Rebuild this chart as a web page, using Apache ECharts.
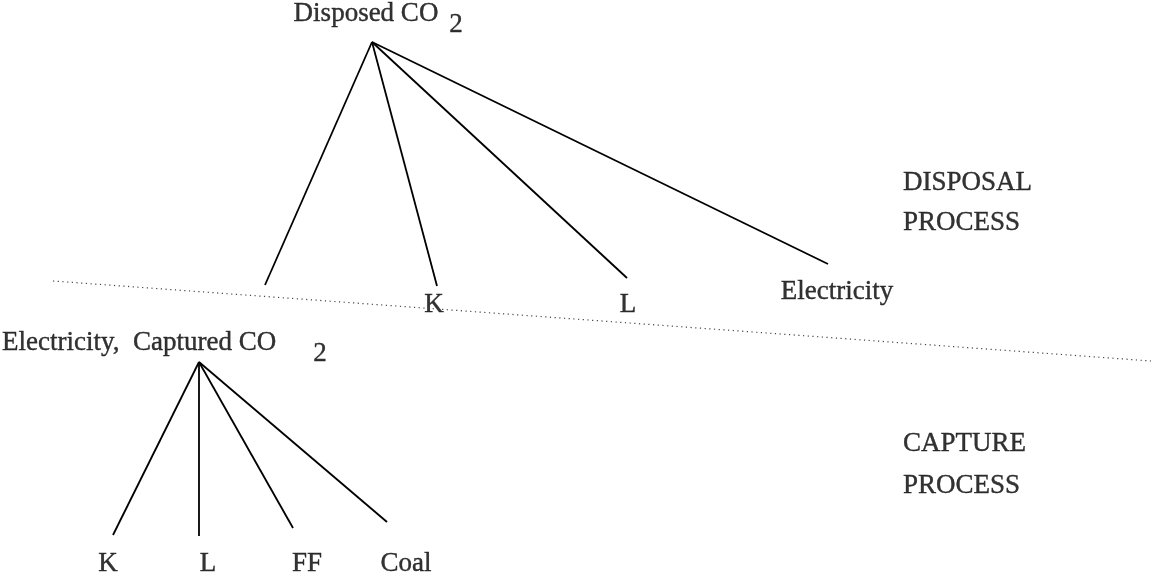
<!DOCTYPE html>
<html>
<head>
<meta charset="utf-8">
<script src="https://cdn.jsdelivr.net/npm/echarts@6/dist/echarts.min.js"></script>
<style>
  body { margin: 0; background: #fff; }
</style>
</head>
<body>
<div id="MyChart" style="width: 1151px;height:578px;"></div>
<script>
// node positions of the two trees (picture coordinates, y downwards)
const topApex = [372, 42]
const topLeafX = [265, 437, 627, 828]
const topLeafY = [285, 286, 278, 264]
const bottomApex = [199, 362]
const bottomLeafX = [113, 199, 293, 387]
const bottomLeafY = [535, 536, 528, 522]

// dotted separator, two end points
const sepX = [53, 1151]
const sepY = [281, 361]

// text labels: [x, y, text, align]
const labels = [
  [366, 14, 'Disposed CO', 'center'],
  [456, 25, '2', 'center'],
  [434, 305, 'K', 'center'],
  [628, 305, 'L', 'center'],
  [837, 292, 'Electricity', 'center'],
  [2, 343, 'Electricity,  Captured CO', 'left'],
  [320, 354, '2', 'center'],
  [108, 564, 'K', 'center'],
  [208, 564, 'L', 'center'],
  [307, 564, 'FF', 'center'],
  [406, 564, 'Coal', 'center'],
  [903, 183, 'DISPOSAL', 'left'],
  [903, 223, 'PROCESS', 'left'],
  [903, 444, 'CAPTURE', 'left'],
  [903, 486, 'PROCESS', 'left']
]

let nodes = []
let links = []
nodes.push({ name: 'top', value: topApex })
for (let i = 0; i < topLeafX.length; i++) {
  nodes.push({ name: 't' + i, value: [topLeafX[i], topLeafY[i]] })
  links.push({ source: 0, target: nodes.length - 1 })
}
nodes.push({ name: 'bottom', value: bottomApex })
let b = nodes.length - 1
for (let i = 0; i < bottomLeafX.length; i++) {
  nodes.push({ name: 'b' + i, value: [bottomLeafX[i], bottomLeafY[i]] })
  links.push({ source: b, target: nodes.length - 1 })
}

let myChart = echarts.init(document.getElementById('MyChart'))
let option = {
  animation: false,
  grid: { left: 0, right: 0, top: 0, bottom: 0 },
  xAxis: { type: 'value', min: 0, max: 1151, show: false },
  yAxis: { type: 'value', min: 0, max: 578, inverse: true, show: false },
  series: [
    {
      type: 'line',
      data: [[sepX[0], sepY[0]], [sepX[1], sepY[1]]],
      symbol: 'none',
      lineStyle: { color: '#444', width: 1.2, type: [1.2, 3.5] }
    },
    {
      type: 'graph',
      coordinateSystem: 'cartesian2d',
      layout: 'none',
      symbolSize: 0,
      data: nodes,
      links: links,
      label: { show: false },
      lineStyle: { color: '#000', width: 1.8, opacity: 1, curveness: 0 }
    },
    {
      type: 'scatter',
      symbolSize: 1,
      itemStyle: { color: 'rgba(0,0,0,0)' },
      data: labels.map(l => ({
        value: [l[0], l[1], l[2]],
        label: { align: l[3] }
      })),
      label: {
        show: true,
        position: 'inside',
        verticalAlign: 'middle',
        formatter: p => p.value[2],
        color: '#000',
        textBorderColor: '#000',
        textBorderWidth: 0.4,
        fontFamily: 'Liberation Serif',
        fontSize: 27
      }
    }
  ]
}
myChart.setOption(option)
</script>
</body>
</html>
